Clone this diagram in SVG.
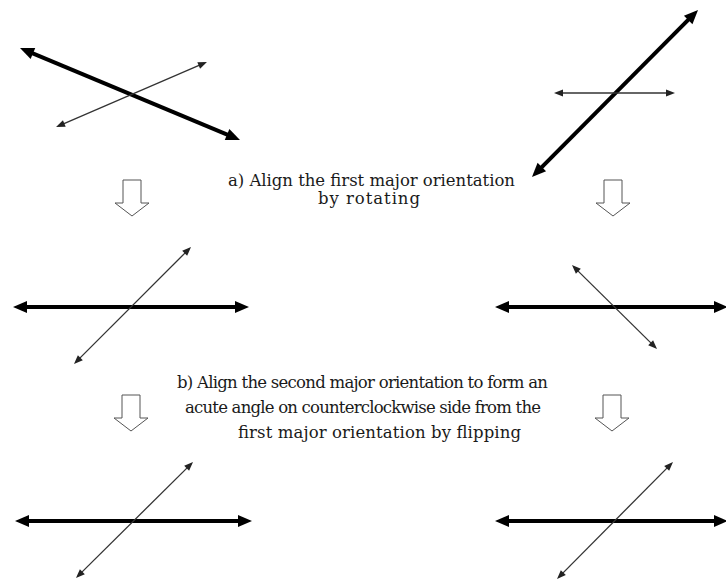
<svg xmlns="http://www.w3.org/2000/svg" width="726" height="583" viewBox="0 0 726 583">
  <style>
    .thick { stroke: #000; stroke-width: 4; fill: none; marker-start: url(#headBig); marker-end: url(#headBig); }
    .thin { stroke: #333; stroke-width: 1.3; fill: none; marker-start: url(#headSmall); marker-end: url(#headSmall); }
    .step { fill: #fff; stroke: #555; stroke-width: 1; }
    .label { font-family: "DejaVu Serif", "Liberation Serif", serif; font-size: 16.5px; fill: #1a1a1a; text-anchor: middle; }
  </style>
  <defs>
    <marker id="headBig" markerUnits="userSpaceOnUse" markerWidth="14" markerHeight="12" refX="6" refY="6" orient="auto-start-reverse" overflow="visible">
      <path d="M0,0 L14,6 L0,12 Z" fill="#000"/>
    </marker>
    <marker id="headSmall" markerUnits="userSpaceOnUse" markerWidth="9" markerHeight="7" refX="6" refY="3.5" orient="auto-start-reverse" overflow="visible">
      <path d="M0,0 L9,3.5 L0,7 Z" fill="#222"/>
    </marker>
    <path id="downArrow" d="M-9,0 H9 V23 H17 L0,36 L-17,23 H-9 Z"/>
  </defs>

  <!-- row 1: original orientations -->
  <g id="pair-top-left">
    <line class="thick" x1="27.4" y1="51.1" x2="232.6" y2="136.9"/>
    <line class="thin" x1="58.8" y1="125.8" x2="204.2" y2="63.2"/>
  </g>
  <g id="pair-top-right">
    <line class="thick" x1="537.6" y1="171.3" x2="692.4" y2="15.7"/>
    <line class="thin" x1="557" y1="93" x2="672" y2="93"/>
  </g>

  <!-- step arrows -->
  <g id="steps">
    <use href="#downArrow" class="step" x="132" y="180"/>
    <use href="#downArrow" class="step" x="613" y="180"/>
    <use href="#downArrow" class="step" x="131" y="395"/>
    <use href="#downArrow" class="step" x="612" y="395"/>
  </g>

  <!-- step a -->
  <g id="label-a">
    <text class="label" x="371.5" y="186" textLength="287">a) Align the first major orientation</text>
    <text class="label" x="369" y="204" textLength="102">by rotating</text>
  </g>

  <!-- row 2: after rotating -->
  <g id="pair-mid-left">
    <line class="thick" x1="21" y1="307" x2="241" y2="307"/>
    <line class="thin" x1="76.1" y1="361.9" x2="188.9" y2="249.1"/>
  </g>
  <g id="pair-mid-right">
    <line class="thick" x1="503" y1="307" x2="720" y2="307"/>
    <line class="thin" x1="574.1" y1="267.1" x2="654.9" y2="346.9"/>
  </g>

  <!-- step b -->
  <g id="label-b">
    <text class="label" x="362.5" y="388" textLength="371">b) Align the second major orientation to form an</text>
    <text class="label" x="363" y="413" textLength="356">acute angle on counterclockwise side from the</text>
    <text class="label" x="379.5" y="438" textLength="283">first major orientation by flipping</text>
  </g>

  <!-- row 3: after flipping -->
  <g id="pair-bottom-left">
    <line class="thick" x1="23" y1="521" x2="244" y2="521"/>
    <line class="thin" x1="78.1" y1="575.9" x2="190.9" y2="464.1"/>
  </g>
  <g id="pair-bottom-right">
    <line class="thick" x1="503" y1="521" x2="720" y2="521"/>
    <line class="thin" x1="559.1" y1="576.9" x2="670.9" y2="464.1"/>
  </g>
</svg>
